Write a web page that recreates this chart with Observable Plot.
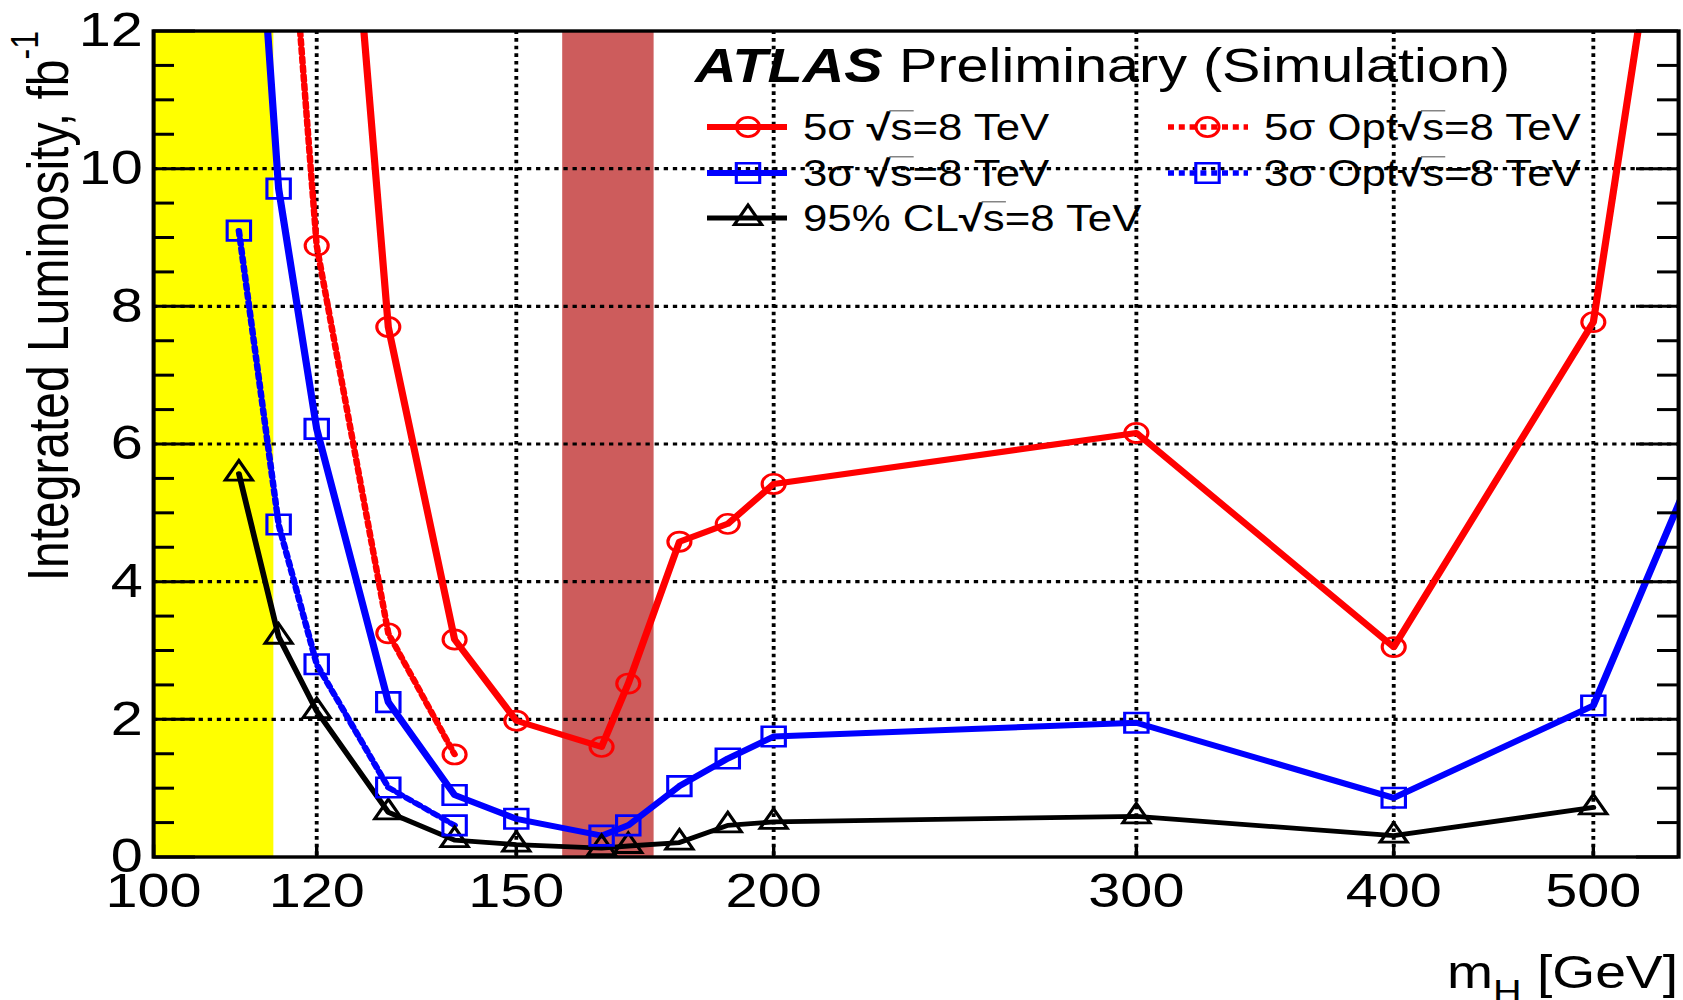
<!DOCTYPE html>
<html>
<head>
<meta charset="utf-8">
<script src="https://cdn.jsdelivr.net/npm/d3@7"></script>
<script src="https://cdn.jsdelivr.net/npm/@observablehq/plot@0.6"></script>
<style>
  html, body { margin: 0; padding: 0; background: #fff; }
  #chart svg { display: block; }
</style>
</head>
<body>
<div id="chart"></div>
<script>
// ---------------- data ----------------
const xTicks = [100, 120, 150, 200, 300, 400, 500];
const xGrid = [120, 150, 200, 300, 400, 500];
const yTicks = [0, 2, 4, 6, 8, 10, 12];
const yGrid = [2, 4, 6, 8, 10];
const yMinor = [0.5, 1, 1.5, 2.5, 3, 3.5, 4.5, 5, 5.5, 6.5, 7, 7.5, 8.5, 9, 9.5, 10.5, 11, 11.5];

// excluded regions (GeV)
const bandLEP = [100, 114.4];
const bandTevatron = [158, 175];

// 5 sigma, sqrt(s)=8 TeV
const mass5 = [120, 130, 140, 150, 165, 170, 180, 190, 200, 300, 400, 500, 600];
const lumi5 = [20.3, 7.70, 3.16, 1.98, 1.60, 2.52, 4.58, 4.84, 5.42, 6.16, 3.05, 7.77, 23.2];
// 3 sigma
const mass3 = [110, 115, 120, 130, 140, 150, 165, 170, 180, 190, 200, 300, 400, 500, 600];
const lumi3 = [18.0, 9.71, 6.22, 2.25, 0.90, 0.555, 0.31, 0.46, 1.03, 1.43, 1.75, 1.95, 0.86, 2.20, 7.79];
// 95% CL
const massCL = [110, 115, 120, 130, 140, 150, 165, 170, 180, 190, 200, 300, 400, 500];
const lumiCL = [5.57, 3.2, 2.12, 0.65, 0.245, 0.18, 0.13, 0.16, 0.21, 0.46, 0.51, 0.59, 0.31, 0.72];
// 5 sigma optimised
const mass5opt = [115, 120, 130, 140];
const lumi5opt = [16.05, 8.88, 3.25, 1.49];
// 3 sigma optimised
const mass3opt = [110, 115, 120, 130, 140];
const lumi3opt = [9.10, 4.83, 2.80, 1.01, 0.46];

const legendLabels = ["5σ √s=8 TeV", "3σ √s=8 TeV", "95% CL√s=8 TeV", "5σ Opt√s=8 TeV", "3σ Opt√s=8 TeV"];
const titleBold = "ATLAS";
const titleRest = "Preliminary (Simulation)";
const yTitle = "Integrated Luminosity, fb";
const yTitleSup = "-1";
const xTitleMain = "m";
const xTitleSub = "H";
const xTitleRest = " [GeV]";

// ---------------- layout ----------------
const FONT = "'Liberation Sans', Arial, Helvetica, sans-serif";
const S = 1.2;                 // horizontal stretch of the reference picture
const OUTW = 1683, H = 1000;
const W = OUTW / S;
const mL = 153 / S, mR = W - 1678 / S, mT = 30.5, mB = H - 856.5;
const plotW = W - mL - mR, plotH = H - mT - mB;

const toRows = (m, v) => m.map((x, i) => ({m: x, v: v[i]}));
const s5 = toRows(mass5, lumi5);
const s3 = toRows(mass3, lumi3);
const sCL = toRows(massCL, lumiCL);
const s5o = toRows(mass5opt, lumi5opt);
const s3o = toRows(mass3opt, lumi3opt);
const bands = [
  {x1: bandLEP[0], x2: bandLEP[1], k: "lep"},
  {x1: bandTevatron[0], x2: bandTevatron[1], k: "tev"}
];

const DOT = "5,4";
const LW = 6;       // solid coloured lines
const LWK = 4.8;    // black line
const LWD = 5.4;    // dotted lines
const GRID = "3.6,4";
const GW = 3.2;

const plot = Plot.plot({
  width: W,
  height: H,
  marginLeft: mL,
  marginRight: mR,
  marginTop: mT,
  marginBottom: mB,
  style: {fontFamily: FONT, fontSize: "48px", background: "white", color: "black", overflow: "visible"},
  x: {type: "log", domain: [100, 550]},
  y: {domain: [0, 12]},
  marks: [
    Plot.rect(bands, {x1: "x1", x2: "x2", fill: d => d.k === "lep" ? "#ffff00" : "#cd5c5c"}),
    Plot.ruleX(xGrid, {x: d => d, stroke: "black", strokeWidth: GW, strokeDasharray: GRID}),
    Plot.ruleY(yGrid, {y: d => d, stroke: "black", strokeWidth: GW, strokeDasharray: GRID}),
    // lines
    Plot.line(sCL, {x: "m", y: "v", stroke: "black", strokeWidth: LWK, clip: true}),
    Plot.line(s3, {x: "m", y: "v", stroke: "#0000ff", strokeWidth: LW, clip: true}),
    Plot.line(s5, {x: "m", y: "v", stroke: "#ff0000", strokeWidth: LW, clip: true}),
    Plot.line(s3o, {x: "m", y: "v", stroke: "#0000ff", strokeWidth: LWD, strokeDasharray: DOT, clip: true}),
    Plot.line(s5o, {x: "m", y: "v", stroke: "#ff0000", strokeWidth: LWD, strokeDasharray: DOT, clip: true}),
    // markers
    Plot.dot(sCL, {x: "m", y: "v", symbol: "triangle", r: 8.4, stroke: "black", strokeWidth: 2.8, fill: "none", clip: true}),
    Plot.dot(s3, {x: "m", y: "v", symbol: "square", r: 11, stroke: "#0000ff", strokeWidth: 2.6, fill: "none", clip: true}),
    Plot.dot(s5, {x: "m", y: "v", symbol: "circle", r: 9.6, stroke: "#ff0000", strokeWidth: 2.6, fill: "none", clip: true}),
    Plot.dot(s3o, {x: "m", y: "v", symbol: "square", r: 11, stroke: "#0000ff", strokeWidth: 2.6, fill: "none", clip: true}),
    Plot.dot(s5o, {x: "m", y: "v", symbol: "circle", r: 9.6, stroke: "#ff0000", strokeWidth: 2.6, fill: "none", clip: true}),
    // inward ticks, left and right
    Plot.ruleY(yTicks, {y: d => d, stroke: "black", strokeWidth: 3, insetRight: plotW - 35}),
    Plot.ruleY(yMinor, {y: d => d, stroke: "black", strokeWidth: 3, insetRight: plotW - 17.5}),
    Plot.ruleY(yTicks, {y: d => d, stroke: "black", strokeWidth: 3, insetLeft: plotW - 35}),
    Plot.ruleY(yMinor, {y: d => d, stroke: "black", strokeWidth: 3, insetLeft: plotW - 17.5}),
    Plot.ruleX(xTicks, {x: d => d, stroke: "black", strokeWidth: 2.8, insetTop: plotH - 12}),
    Plot.frame({stroke: "black", strokeWidth: 3.4}),
    Plot.axisX({ticks: xTicks, tickFormat: d => `${d}`, tickSize: 0, tickPadding: 15.5, label: null}),
    Plot.axisY({ticks: yTicks, tickFormat: d => `${d}`, tickSize: 0, tickPadding: 9, label: null})
  ]
});

plot.setAttribute("width", OUTW);
plot.setAttribute("height", H);
plot.setAttribute("viewBox", `0 0 ${W} ${H}`);
plot.setAttribute("preserveAspectRatio", "none");
plot.style.maxWidth = "none";
plot.style.width = OUTW + "px";
plot.style.height = H + "px";
document.getElementById("chart").append(plot);

// ---------------- titles and legend ----------------
const svg = d3.select(plot);
const g = svg.append("g").attr("font-family", FONT).attr("fill", "black").attr("text-anchor", "start");

// y-axis title
const yt = g.append("text")
  .attr("transform", `translate(${56.7},${31}) rotate(-90)`)
  .attr("text-anchor", "end").attr("font-size", 48);
yt.append("tspan").text(yTitle);
yt.append("tspan").attr("font-size", 32).attr("dy", -25).text(yTitleSup);

// x-axis title
const xt = g.append("text")
  .attr("x", 1678 / S).attr("y", 988)
  .attr("text-anchor", "end").attr("font-size", 46);
xt.append("tspan").text(xTitleMain);
xt.append("tspan").attr("font-size", 33).attr("dy", 15).text(xTitleSub);
xt.append("tspan").attr("dy", -15).text(xTitleRest);

// ATLAS label
const tt = g.append("text").attr("x", 695 / S).attr("y", 82).attr("font-size", 48);
tt.append("tspan").attr("font-weight", "bold").attr("font-style", "italic").text(titleBold);
tt.append("tspan").attr("x", 899 / S).text(titleRest);

// legend entries
const legendStyle = [
  {color: "#ff0000", dash: null, sym: "circle", col: 0, row: 0},
  {color: "#0000ff", dash: null, sym: "square", col: 0, row: 1},
  {color: "black", dash: null, sym: "triangle", col: 0, row: 2},
  {color: "#ff0000", dash: DOT, sym: "circle", col: 1, row: 0},
  {color: "#0000ff", dash: DOT, sym: "square", col: 1, row: 1}
];
const colX = [
  {l1: 707 / S, l2: 787 / S, mk: 748 / S, tx: 803 / S},
  {l1: 1168 / S, l2: 1248 / S, mk: 1207.5 / S, tx: 1264 / S}
];
const rowBase = [140, 186, 231];
const LFS = 36.5;
const symGen = {
  square: d3.symbol(d3.symbolSquare, Math.PI * 11 * 11),
  triangle: d3.symbol(d3.symbolTriangle, Math.PI * 8.4 * 8.4)
};

legendLabels.forEach((label, i) => {
  const st = legendStyle[i];
  const c = colX[st.col];
  const base = rowBase[st.row];
  const cy = base - 13;
  const line = g.append("line")
    .attr("x1", c.l1).attr("x2", c.l2).attr("y1", cy).attr("y2", cy)
    .attr("stroke", st.color).attr("stroke-width", st.color === "black" ? LWK : (st.dash ? LWD : LW));
  if (st.dash) line.attr("stroke-dasharray", st.dash);
  if (st.sym === "circle") {
    g.append("circle").attr("cx", c.mk).attr("cy", cy).attr("r", 9.6)
      .attr("fill", "none").attr("stroke", st.color).attr("stroke-width", 2.6);
  } else {
    g.append("path").attr("d", symGen[st.sym]())
      .attr("transform", `translate(${c.mk},${cy})`)
      .attr("fill", "none").attr("stroke", st.color).attr("stroke-width", st.sym === "triangle" ? 2.8 : 2.6);
  }
  const k = label.indexOf("√s");
  const pre = label.slice(0, k);
  const post = label.slice(k + 2);
  const tx = g.append("text").attr("x", c.tx).attr("y", base).attr("font-size", LFS)
    .attr("xml:space", "preserve");
  tx.append("tspan").text(pre);
  const sq = tx.append("tspan").attr("font-weight", "bold").text("√");
  const ss = tx.append("tspan").text("s");
  tx.append("tspan").text(post);
  try {
    const sqEnd = sq.node().getEndPositionOfChar(0).x;
    const sEnd = ss.node().getEndPositionOfChar(0).x;
    g.append("line")
      .attr("x1", sqEnd - 1).attr("x2", sEnd + 1)
      .attr("y1", base - 0.8 * LFS).attr("y2", base - 0.8 * LFS)
      .attr("stroke", "#666").attr("stroke-width", 1.2);
  } catch (e) {}
});
</script>
</body>
</html>
